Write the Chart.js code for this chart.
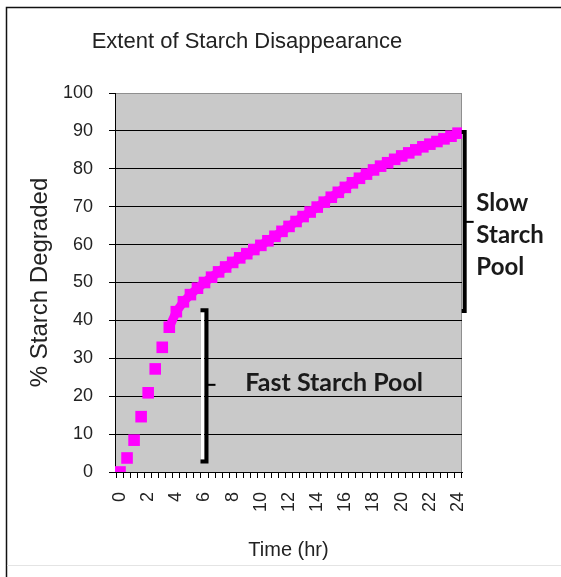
<!DOCTYPE html>
<html>
<head>
<meta charset="utf-8">
<script src="https://cdn.jsdelivr.net/npm/chart.js@4.4.0/dist/chart.umd.min.js"></script>
<style>
  html, body { margin: 0; padding: 0; background: #fff; }
</style>
</head>
<body>
<canvas id="starch" width="561" height="577"></canvas>
<script>
// sampling times (hr) and % starch degraded
const timeHr = [0, 0.5, 1, 1.5, 2, 2.5, 3, 3.5, 4, 4.5, 5, 5.5, 6, 6.5, 7, 7.5, 8, 8.5, 9, 9.5,
  10, 10.5, 11, 11.5, 12, 12.5, 13, 13.5, 14, 14.5, 15, 15.5, 16, 16.5, 17, 17.5, 18, 18.5, 19, 19.5,
  20, 20.5, 21, 21.5, 22, 22.5, 23, 23.5, 24];
const starchDegraded = [0, 3.7, 8.4, 14.6, 20.9, 27.2, 32.9, 38.2, 42.3, 44.9, 46.8, 48.5, 50.0, 51.4, 52.8, 54.1, 55.3, 56.5, 57.6, 58.7,
  59.8, 61.0, 62.2, 63.5, 64.8, 66.1, 67.4, 68.6, 69.9, 71.2, 72.5, 73.8, 75.1, 76.3, 77.5, 78.6, 79.7, 80.7, 81.6, 82.5,
  83.4, 84.2, 85.0, 85.8, 86.5, 87.2, 87.9, 88.6, 89.4];

const xLabelEvery = 2;     // labelled every 2 hr
const xMinorStep = 0.5;    // tick marks between samples
const yStep = 10;

// the two bracket notes, in data units
const fastPool = { lines: ['Fast Starch Pool'], x: 6.14, yFrom: 2.8, yTo: 42.7, yMid: 23.0, textX: 8.9, textY: [23.5], size: 25 };
const slowPool = { lines: ['Slow', 'Starch', 'Pool'], x: 24.47, yFrom: 42.5, yTo: 89.7, yMid: 66, textX: 25.3, textY: [71, 62.5, 54.1], size: 24 };

const points = timeHr.map((t, i) => ({ x: t, y: starchDegraded[i] }));

const frame = {
  id: 'frame',
  beforeDraw(chart) {
    const { ctx, chartArea: a } = chart;
    ctx.save();
    ctx.fillStyle = '#fff';
    ctx.fillRect(0, 0, chart.width, chart.height);
    ctx.strokeStyle = '#111';
    ctx.lineWidth = 1.5;
    ctx.beginPath();
    ctx.moveTo(6.5, chart.height);
    ctx.lineTo(6.5, 7.5);
    ctx.lineTo(chart.width, 7.5);
    ctx.stroke();
    ctx.strokeStyle = '#e4e4e4';
    ctx.lineWidth = 1;
    ctx.beginPath();
    ctx.moveTo(7, 565.5);
    ctx.lineTo(chart.width, 565.5);
    ctx.stroke();
    ctx.fillStyle = '#c9c9c9';
    ctx.fillRect(a.left, a.top, a.right - a.left, a.bottom - a.top);
    ctx.strokeStyle = '#8f8f8f';
    ctx.beginPath();
    ctx.moveTo(a.right - 0.5, a.top);
    ctx.lineTo(a.right - 0.5, a.bottom);
    ctx.stroke();
    ctx.restore();
  }
};

function drawBracket(ctx, sx, sy, note, hook, shadow) {
  const x = sx.getPixelForValue(note.x);
  const y1 = sy.getPixelForValue(note.yTo);
  const y2 = sy.getPixelForValue(note.yFrom);
  const ym = sy.getPixelForValue(note.yMid);
  if (shadow) {
    ctx.strokeStyle = '#fff';
    ctx.lineWidth = 3;
    ctx.beginPath();
    ctx.moveTo(x - 4, y1 + 2);
    ctx.lineTo(x - 4, y2 - 2);
    ctx.stroke();
  }
  ctx.strokeStyle = '#000';
  ctx.lineWidth = 4;
  ctx.lineJoin = 'miter';
  ctx.beginPath();
  ctx.moveTo(x - hook, y1);
  ctx.lineTo(x, y1);
  ctx.lineTo(x, y2);
  ctx.lineTo(x - hook, y2);
  ctx.stroke();
  ctx.lineWidth = 2;
  ctx.beginPath();
  ctx.moveTo(x, ym);
  ctx.lineTo(x + 9, ym);
  ctx.stroke();
}

function drawNote(ctx, sx, sy, note) {
  ctx.fillStyle = '#1a1a1a';
  ctx.font = 'bold ' + note.size + 'px Lato';
  ctx.textAlign = 'left';
  ctx.textBaseline = 'middle';
  note.lines.forEach((s, i) => {
    ctx.fillText(s, sx.getPixelForValue(note.textX), sy.getPixelForValue(note.textY[i]));
  });
}

const notes = {
  id: 'notes',
  afterDraw(chart) {
    const { ctx, scales } = chart;
    ctx.save();
    drawBracket(ctx, scales.x, scales.y, fastPool, 6, true);
    drawBracket(ctx, scales.x, scales.y, slowPool, 3, false);
    drawNote(ctx, scales.x, scales.y, fastPool);
    drawNote(ctx, scales.x, scales.y, slowPool);
    ctx.restore();
  }
};

const axisFont = { family: 'Liberation Sans', size: 18 };

new Chart(document.getElementById('starch').getContext('2d'), {
  type: 'scatter',
  data: {
    datasets: [{
      data: points,
      pointStyle: 'rect',
      pointRadius: 8.2,
      pointBorderWidth: 0,
      backgroundColor: '#ff00ff',
      borderColor: '#ff00ff',
      borderWidth: 9,
      showLine: true,
      // markers merge into a band once the curve flattens; no joins before that
      segment: { borderColor: (c) => (c.p0.parsed.x >= 3.5 ? '#ff00ff' : 'rgba(0,0,0,0)') }
    }]
  },
  options: {
    responsive: false,
    animation: false,
    layout: { padding: { left: 32, right: 99, top: 20, bottom: 15 } },
    plugins: {
      legend: { display: false },
      tooltip: { enabled: false },
      title: {
        display: true,
        text: 'Extent of Starch Disappearance',
        color: '#222',
        font: { family: 'Liberation Sans', size: 22, weight: 'normal' },
        padding: { top: 9, bottom: 37.6 }
      }
    },
    scales: {
      x: {
        type: 'linear',
        min: -0.355,
        max: 24.28,
        afterBuildTicks(scale) {
          const t = [];
          for (let v = -xMinorStep / 2; v <= 24.3; v += xMinorStep) t.push({ value: v });
          scale.ticks = t;
        },
        afterFit(scale) { scale.height = 90; },
        border: { display: true, color: '#000', width: 1 },
        grid: { drawOnChartArea: false, drawTicks: true, tickLength: 6, tickColor: '#000' },
        ticks: {
          autoSkip: false,
          includeBounds: false,
          minRotation: 90,
          maxRotation: 90,
          padding: 14,
          labelOffset: 3.5,
          color: '#222',
          font: axisFont,
          callback(v) {
            const lab = Math.round((v + xMinorStep / 2) * 100) / 100;
            return lab % xLabelEvery === 0 ? String(lab) : '';
          }
        },
        title: {
          display: true,
          text: 'Time (hr)',
          color: '#222',
          font: { family: 'Liberation Sans', size: 20 },
          padding: { top: 0, bottom: 0 }
        }
      },
      y: {
        min: 0,
        max: 100,
        afterFit(scale) { scale.width = 83; },
        border: { display: true, color: '#000', width: 1 },
        grid: {
          color: (c) => (c.tick && c.tick.value === 100 ? '#8f8f8f' : '#000'),
          lineWidth: 1,
          drawTicks: true,
          tickLength: 6,
          tickColor: '#000'
        },
        ticks: { stepSize: yStep, padding: 16, color: '#222', font: axisFont },
        title: {
          display: true,
          text: '% Starch Degraded',
          color: '#222',
          font: { family: 'Liberation Sans', size: 24 },
          padding: { top: -6, bottom: 0 }
        }
      }
    }
  },
  plugins: [frame, notes]
});
</script>
</body>
</html>
